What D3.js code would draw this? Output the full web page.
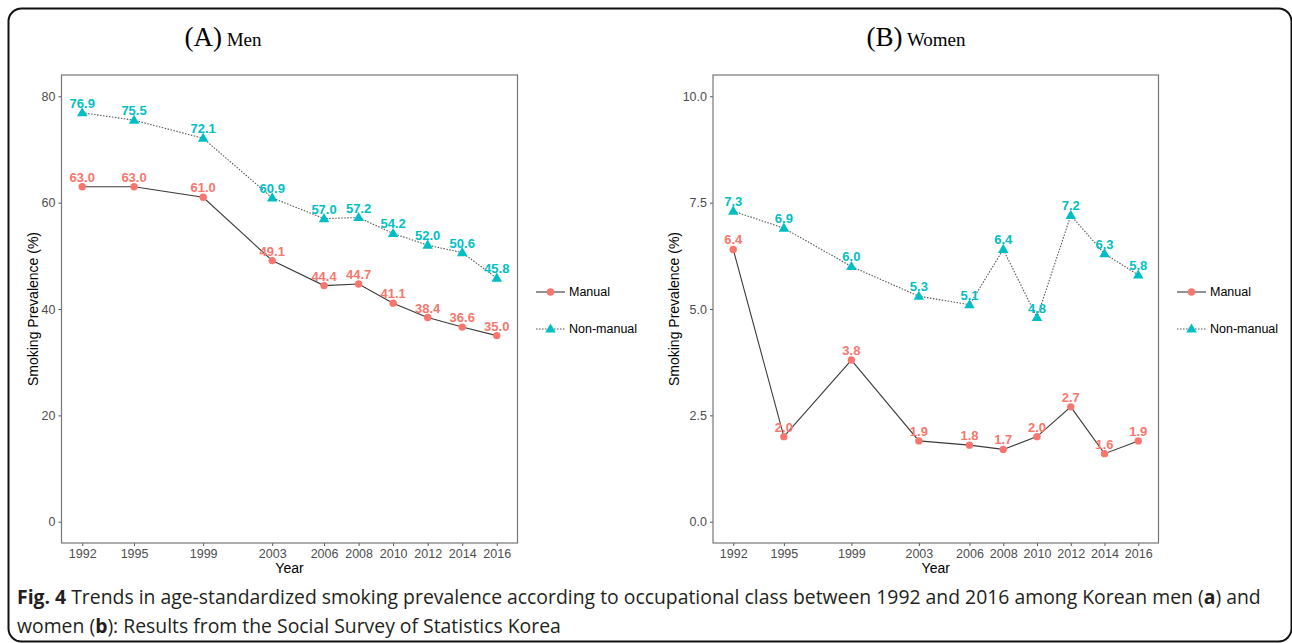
<!DOCTYPE html>
<html lang="">
<head>
    <meta charset="UTF-8">
    <title>Smoking prevalence by occupational class</title>
    <script src="https://cdn.jsdelivr.net/npm/d3@7/dist/d3.min.js"></script>
    <style>
        *{
            padding: 0;
            margin: 0;
        }
        body{
            background-color: #ffffff;
        }
    </style>
</head>
<body>
<div id="grafico"></div>

<script>
    // datos
    var years = [1992, 1995, 1999, 2003, 2006, 2008, 2010, 2012, 2014, 2016];
    var menManual = [63.0, 63.0, 61.0, 49.1, 44.4, 44.7, 41.1, 38.4, 36.6, 35.0];
    var menNonManual = [76.9, 75.5, 72.1, 60.9, 57.0, 57.2, 54.2, 52.0, 50.6, 45.8];
    var womenManual = [6.4, 2.0, 3.8, 1.9, 1.8, 1.7, 2.0, 2.7, 1.6, 1.9];
    var womenNonManual = [7.3, 6.9, 6.0, 5.3, 5.1, 6.4, 4.8, 7.2, 6.3, 5.8];
    var menTicks = [0, 20, 40, 60, 80];
    var womenTicks = [0, 2.5, 5, 7.5, 10];
    var seriesNames = ["Manual", "Non-manual"];

    var w = 1292;
    var h = 643;
    var colManual = "#F8766D";
    var colNonManual = "#00BFC4";

    var svg = d3.select("#grafico")
        .append("svg")
        .attr("width", w)
        .attr("height", h)
        .style("display", "block");

    // marco redondeado
    svg.append("rect")
        .attr("x", 8.5)
        .attr("y", 8.5)
        .attr("width", 1283)
        .attr("height", 633)
        .attr("rx", 13)
        .attr("fill", "none")
        .attr("stroke", "#111")
        .attr("stroke-width", 2);

    function panel(opt){
        var g = svg.append("g");
        var x0 = opt.x0, x1 = opt.x1, y0 = 75, y1 = 543;

        var xScale = d3.scaleLinear()
            .domain([1992 - 1.2, 2016 + 1.2])
            .range([x0, x1]);
        var span = opt.ymax - opt.ymin;
        var yScale = d3.scaleLinear()
            .domain([opt.ymin - span * 0.05, opt.ymax + span * 0.05])
            .range([y1, y0]);

        // titulo
        var t = g.append("text")
            .attr("x", opt.titleX)
            .attr("y", 46)
            .attr("text-anchor", "middle")
            .attr("font-family", "'Liberation Serif', 'DejaVu Serif', serif")
            .attr("fill", "#000");
        t.append("tspan").attr("font-size", "27px").text(opt.letter);
        t.append("tspan").attr("font-size", "19px").text(" " + opt.title);

        // ejes
        var yAxis = d3.axisLeft(yScale)
            .tickValues(opt.ticks)
            .tickSize(3)
            .tickPadding(3)
            .tickFormat(opt.fmt);
        g.append("g")
            .attr("transform", "translate(" + x0 + ",0)")
            .call(yAxis)
            .call(function(s){
                s.select(".domain").remove();
                s.selectAll("line").attr("stroke", "#555");
                s.selectAll("text")
                    .attr("font-family", "'Liberation Sans', Arial, sans-serif")
                    .attr("font-size", "12.5px")
                    .attr("fill", "#4d4d4d");
            });

        var xAxis = d3.axisBottom(xScale)
            .tickValues(years)
            .tickSize(3)
            .tickPadding(3)
            .tickFormat(d3.format("d"));
        g.append("g")
            .attr("transform", "translate(0," + y1 + ")")
            .call(xAxis)
            .call(function(s){
                s.select(".domain").remove();
                s.selectAll("line").attr("stroke", "#555");
                s.selectAll("text")
                    .attr("font-family", "'Liberation Sans', Arial, sans-serif")
                    .attr("font-size", "12.5px")
                    .attr("fill", "#4d4d4d");
            });

        // borde del panel
        g.append("rect")
            .attr("x", x0)
            .attr("y", y0)
            .attr("width", x1 - x0)
            .attr("height", y1 - y0)
            .attr("fill", "none")
            .attr("stroke", "#777")
            .attr("stroke-width", 1.2);

        // titulos de ejes
        g.append("text")
            .attr("x", (x0 + x1) / 2)
            .attr("y", 573)
            .attr("text-anchor", "middle")
            .attr("font-family", "'Liberation Sans', Arial, sans-serif")
            .attr("font-size", "14px")
            .attr("fill", "#000")
            .text("Year");
        g.append("text")
            .attr("transform", "translate(" + opt.ylabX + "," + ((y0 + y1) / 2) + ") rotate(-90)")
            .attr("text-anchor", "middle")
            .attr("font-family", "'Liberation Sans', Arial, sans-serif")
            .attr("font-size", "14px")
            .attr("fill", "#000")
            .text("Smoking Prevalence (%)");

        // lineas
        var line = d3.line()
            .x(function(d, i){ return xScale(years[i]); })
            .y(function(d){ return yScale(d); });

        g.append("path")
            .datum(opt.manual)
            .attr("d", line)
            .attr("fill", "none")
            .attr("stroke", "#3a3a3a")
            .attr("stroke-width", 1.1);
        g.append("path")
            .datum(opt.nonManual)
            .attr("d", line)
            .attr("fill", "none")
            .attr("stroke", "#555")
            .attr("stroke-width", 1.1)
            .attr("stroke-dasharray", "1.5,1.5");

        // puntos
        g.selectAll("circle.man")
            .data(opt.manual)
            .enter()
            .append("circle")
            .attr("cx", function(d, i){ return xScale(years[i]); })
            .attr("cy", function(d){ return yScale(d); })
            .attr("r", 3.7)
            .attr("fill", colManual);

        var tri = d3.symbol().type(d3.symbolTriangle).size(48);
        g.selectAll("path.non")
            .data(opt.nonManual)
            .enter()
            .append("path")
            .attr("d", tri)
            .attr("transform", function(d, i){
                return "translate(" + xScale(years[i]) + "," + (yScale(d) + 0.5) + ")";
            })
            .attr("fill", colNonManual);

        // etiquetas
        function etiquetas(data, color){
            g.selectAll(null)
                .data(data)
                .enter()
                .append("text")
                .attr("x", function(d, i){ return xScale(years[i]); })
                .attr("y", function(d){ return yScale(d) - 5; })
                .attr("text-anchor", "middle")
                .attr("font-family", "'Liberation Sans', Arial, sans-serif")
                .attr("font-weight", "bold")
                .attr("font-size", "13px")
                .attr("fill", color)
                .text(function(d){ return d3.format(".1f")(d); });
        }
        etiquetas(opt.manual, colManual);
        etiquetas(opt.nonManual, colNonManual);

        // leyenda
        var lg = g.append("g");
        var legY = [292, 329];
        lg.append("line")
            .attr("x1", opt.legX).attr("x2", opt.legX + 29)
            .attr("y1", legY[0]).attr("y2", legY[0])
            .attr("stroke", "#3a3a3a").attr("stroke-width", 1.1);
        lg.append("circle")
            .attr("cx", opt.legX + 14.5).attr("cy", legY[0])
            .attr("r", 3.7).attr("fill", colManual);
        lg.append("line")
            .attr("x1", opt.legX).attr("x2", opt.legX + 29)
            .attr("y1", legY[1]).attr("y2", legY[1])
            .attr("stroke", "#555").attr("stroke-width", 1.1)
            .attr("stroke-dasharray", "1.5,1.5");
        lg.append("path")
            .attr("d", tri)
            .attr("transform", "translate(" + (opt.legX + 14.5) + "," + (legY[1] + 0.5) + ")")
            .attr("fill", colNonManual);
        lg.selectAll("text")
            .data(seriesNames)
            .enter()
            .append("text")
            .attr("x", opt.legX + 33)
            .attr("y", function(d, i){ return legY[i]; })
            .attr("dy", "0.35em")
            .attr("font-family", "'Liberation Sans', Arial, sans-serif")
            .attr("font-size", "12.5px")
            .attr("fill", "#000")
            .text(function(d){ return d; });
    }

    panel({
        x0: 61.5, x1: 517.5, ymin: 0, ymax: 80, ticks: menTicks,
        fmt: d3.format("d"), manual: menManual, nonManual: menNonManual,
        letter: "(A)", title: "Men", titleX: 223, ylabX: 38, legX: 536
    });
    panel({
        x0: 713, x1: 1158.5, ymin: 0, ymax: 10, ticks: womenTicks,
        fmt: d3.format(".1f"), manual: womenManual, nonManual: womenNonManual,
        letter: "(B)", title: "Women", titleX: 916, ylabX: 679, legX: 1177
    });

    // pie de figura
    var capFont = "'Open Sans', 'Noto Sans', sans-serif";
    var cap1 = svg.append("text")
        .attr("x", 17)
        .attr("y", 604)
        .attr("font-family", capFont)
        .attr("font-size", "18px")
        .attr("fill", "#231f20");
    cap1.append("tspan").attr("font-weight", "bold").text("Fig. 4");
    cap1.append("tspan").text(" Trends in age-standardized smoking prevalence according to occupational class between 1992 and 2016 among Korean men (");
    cap1.append("tspan").attr("font-weight", "bold").text("a");
    cap1.append("tspan").text(") and");

    var cap2 = svg.append("text")
        .attr("x", 17)
        .attr("y", 633)
        .attr("font-family", capFont)
        .attr("font-size", "18px")
        .attr("fill", "#231f20");
    cap2.append("tspan").text("women (");
    cap2.append("tspan").attr("font-weight", "bold").text("b");
    cap2.append("tspan").text("): Results from the Social Survey of Statistics Korea");

    // ajustar tamaño del pie al ancho de la linea original
    var ancho = cap1.node().getComputedTextLength();
    var fs = 18 * 1245 / ancho;
    cap1.attr("font-size", fs + "px");
    cap2.attr("font-size", fs + "px");
</script>
</body>
</html>
